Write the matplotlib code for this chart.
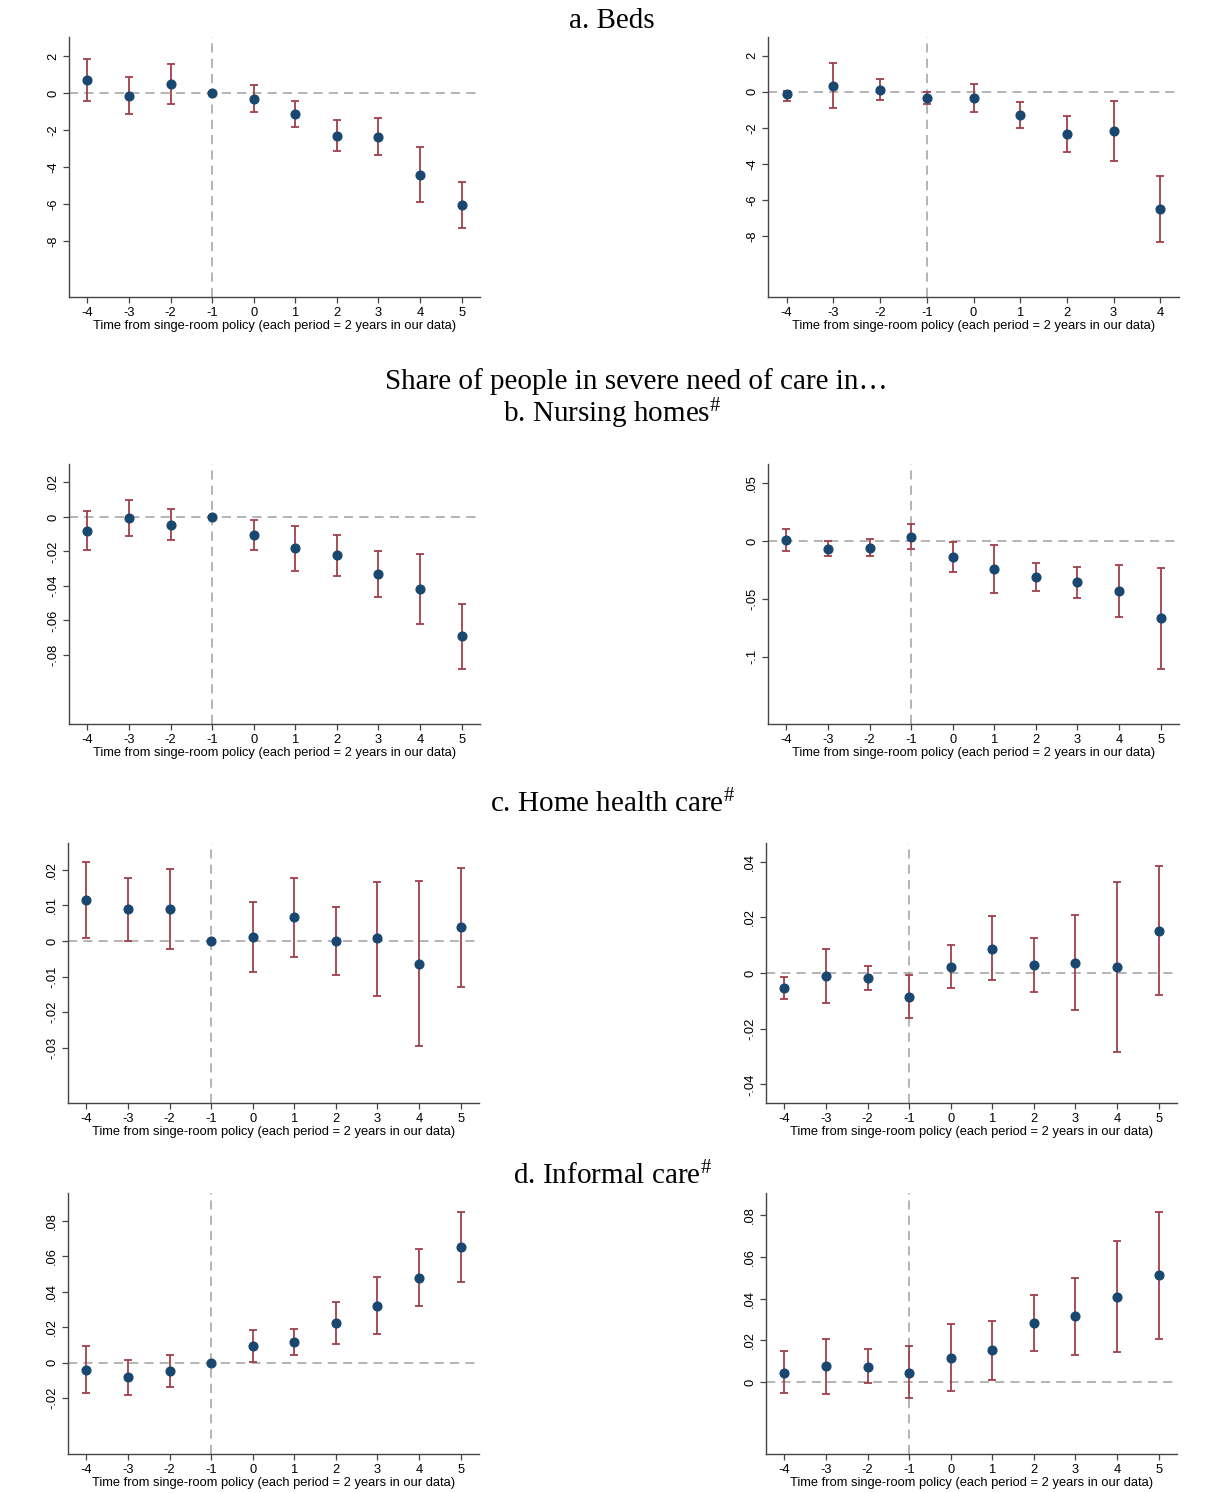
import matplotlib
matplotlib.use('Agg')
import matplotlib.pyplot as plt

plt.rcParams['font.family'] = ['Liberation Sans', 'DejaVu Sans']
plt.rcParams['mathtext.fontset'] = 'custom'
plt.rcParams['mathtext.rm'] = 'Liberation Serif'
plt.rcParams['mathtext.it'] = 'Liberation Serif:italic'

# event time periods
periods10 = [-4, -3, -2, -1, 0, 1, 2, 3, 4, 5]
periods9 = [-4, -3, -2, -1, 0, 1, 2, 3, 4]

# a. Beds
beds_l_est = [0.72, -0.13, 0.49, 0.0, -0.29, -1.15, -2.30, -2.34, -4.39, -6.03]
beds_l_hi = [1.82, 0.85, 1.55, 0.0, 0.45, -0.45, -1.46, -1.33, -2.90, -4.77]
beds_l_lo = [-0.40, -1.10, -0.59, 0.0, -1.01, -1.83, -3.13, -3.35, -5.88, -7.30]

beds_r_est = [-0.13, 0.31, 0.11, -0.35, -0.33, -1.29, -2.35, -2.18, -6.49]
beds_r_hi = [0.04, 1.57, 0.68, 0.01, 0.44, -0.55, -1.35, -0.50, -4.64]
beds_r_lo = [-0.50, -0.92, -0.44, -0.70, -1.11, -2.00, -3.35, -3.84, -8.30]

# b. Nursing homes
nh_l_est = [-0.0079, -0.0008, -0.0044, 0.0, -0.0104, -0.0182, -0.0222, -0.0330, -0.0415, -0.0692]
nh_l_hi = [0.0035, 0.0097, 0.0046, 0.0, -0.0019, -0.0050, -0.0104, -0.0197, -0.0213, -0.0506]
nh_l_lo = [-0.0189, -0.0112, -0.0131, 0.0, -0.0191, -0.0313, -0.0340, -0.0462, -0.0618, -0.0879]

nh_r_est = [0.0009, -0.0069, -0.0058, 0.0037, -0.0141, -0.0242, -0.0314, -0.0354, -0.0432, -0.0666]
nh_r_hi = [0.0104, -0.0003, 0.0020, 0.0144, -0.0012, -0.0032, -0.0190, -0.0222, -0.0205, -0.0231]
nh_r_lo = [-0.0089, -0.0127, -0.0133, -0.0069, -0.0271, -0.0450, -0.0435, -0.0490, -0.0660, -0.1104]

# c. Home health care
hh_l_est = [0.0115, 0.0089, 0.0091, 0.0, 0.0011, 0.0066, -0.0001, 0.0007, -0.0064, 0.0038]
hh_l_hi = [0.0222, 0.0177, 0.0203, 0.0, 0.0109, 0.0177, 0.0095, 0.0166, 0.0168, 0.0206]
hh_l_lo = [0.0008, 0.0001, -0.0022, 0.0, -0.0086, -0.0046, -0.0095, -0.0154, -0.0294, -0.0129]

hh_r_est = [-0.0054, -0.0010, -0.0018, -0.0085, 0.0023, 0.0088, 0.0029, 0.0037, 0.0020, 0.0152]
hh_r_hi = [-0.0016, 0.0088, 0.0026, -0.0008, 0.0101, 0.0203, 0.0127, 0.0209, 0.0326, 0.0386]
hh_r_lo = [-0.0092, -0.0107, -0.0062, -0.0161, -0.0054, -0.0026, -0.0070, -0.0134, -0.0283, -0.0080]

# d. Informal care
ic_l_est = [-0.0040, -0.0083, -0.0047, 0.0, 0.0092, 0.0115, 0.0222, 0.0322, 0.0478, 0.0653]
ic_l_hi = [0.0092, 0.0013, 0.0043, 0.0, 0.0184, 0.0190, 0.0341, 0.0484, 0.0638, 0.0849]
ic_l_lo = [-0.0171, -0.0179, -0.0137, 0.0, 0.0002, 0.0041, 0.0105, 0.0162, 0.0320, 0.0457]

ic_r_est = [0.0045, 0.0077, 0.0075, 0.0046, 0.0118, 0.0154, 0.0283, 0.0317, 0.0410, 0.0512]
ic_r_hi = [0.0147, 0.0208, 0.0157, 0.0171, 0.0278, 0.0294, 0.0419, 0.0501, 0.0674, 0.0814]
ic_r_lo = [-0.0054, -0.0056, -0.0005, -0.0077, -0.0043, 0.0010, 0.0147, 0.0131, 0.0144, 0.0208]

yticks_beds = [2, 0, -2, -4, -6, -8]
yticks_nh_l = [0.02, 0, -0.02, -0.04, -0.06, -0.08]
yticks_nh_r = [0.05, 0, -0.05, -0.1]
yticks_hh_l = [0.02, 0.01, 0, -0.01, -0.02, -0.03]
yticks_hh_r = [0.04, 0.02, 0, -0.02, -0.04]
yticks_ic_l = [0.08, 0.06, 0.04, 0.02, 0, -0.02]
yticks_ic_r = [0.08, 0.06, 0.04, 0.02, 0]

XLABEL = 'Time from singe-room policy (each period = 2 years in our data)'
NAVY = '#1a476f'
BARS = '#a0404a'
GRID = '#a0a0a0'
W, H = 1208, 1493


def stata_fmt(v):
    # stata style: drop leading zero
    if v == 0:
        return '0'
    s = ('%g' % v)
    return s.replace('0.', '.')


def panel(fig, box, x, est, lo, hi, yticks, ylim, xlim):
    left, top, right, bottom = box
    ax = fig.add_axes([left / W, 1 - bottom / H, (right - left) / W, (bottom - top) / H])
    ax.axhline(0, color=GRID, lw=1.1, ls=(0, (6, 4)), zorder=1)
    ax.axvline(-1, color=GRID, lw=1.1, ls=(0, (6, 4)), zorder=1)
    ax.errorbar(x, est, yerr=[[e - l for e, l in zip(est, lo)], [h - e for e, h in zip(est, hi)]],
                fmt='none', ecolor=BARS, elinewidth=1.3, capsize=2.6, capthick=1.3, zorder=2)
    ax.plot(x, est, 'o', color=NAVY, ms=6.3, zorder=3)
    ax.set_xlim(*xlim)
    ax.set_ylim(*ylim)
    ax.set_xticks(x)
    ax.set_xticklabels([str(v) for v in x], fontsize=9.3)
    ax.set_yticks(yticks)
    ax.set_yticklabels([stata_fmt(v) for v in yticks], fontsize=9.3, rotation=90, va='center')
    ax.set_xlabel(XLABEL, fontsize=9.3, labelpad=1)
    for s in ['top', 'right']:
        ax.spines[s].set_visible(False)
    for s in ['left', 'bottom']:
        ax.spines[s].set_color('#444444')
        ax.spines[s].set_linewidth(1.0)
    ax.tick_params(direction='out', length=4, width=0.9, color='#444444', pad=3)
    return ax


fig = plt.figure(figsize=(W / 100, H / 100), dpi=100)

LX = (-4.44, 5.44)
panel(fig, (69, 37, 480, 297), periods10, beds_l_est, beds_l_lo, beds_l_hi, yticks_beds, (-11.0, 3.03), LX)
panel(fig, (768, 37, 1179, 297), periods9, beds_r_est, beds_r_lo, beds_r_hi, yticks_beds, (-11.35, 3.03), (-4.4, 4.4))
panel(fig, (69, 464, 480, 724), periods10, nh_l_est, nh_l_lo, nh_l_hi, yticks_nh_l, (-0.12, 0.0307), LX)
panel(fig, (768, 464, 1179, 724), periods10, nh_r_est, nh_r_lo, nh_r_hi, yticks_nh_r, (-0.158, 0.0666), LX)
panel(fig, (68, 843, 479, 1103), periods10, hh_l_est, hh_l_lo, hh_l_hi, yticks_hh_l, (-0.0455, 0.0275), LX)
panel(fig, (766, 843, 1177, 1103), periods10, hh_r_est, hh_r_lo, hh_r_hi, yticks_hh_r, (-0.0467, 0.0467), LX)
panel(fig, (68, 1193, 479, 1454), periods10, ic_l_est, ic_l_lo, ic_l_hi, yticks_ic_l, (-0.0514, 0.0956), LX)
panel(fig, (766, 1193, 1177, 1454), periods10, ic_r_est, ic_r_lo, ic_r_hi, yticks_ic_r, (-0.0344, 0.0906), LX)

tkw = dict(ha='center', va='center', fontsize=21, family='Liberation Serif')
fig.text(612 / W, 1 - 21 / H, 'a. Beds', **tkw)
fig.text(636 / W, 1 - 382 / H, 'Share of people in severe need of care in\u2026', **tkw)
fig.text(612 / W, 1 - 414 / H, r'b. Nursing homes$^{\#}$', **tkw)
fig.text(612 / W, 1 - 804 / H, r'c. Home health care$^{\#}$', **tkw)
fig.text(612 / W, 1 - 1176 / H, r'd. Informal care$^{\#}$', **tkw)

fig.savefig('out.png', dpi=100, facecolor='white')
